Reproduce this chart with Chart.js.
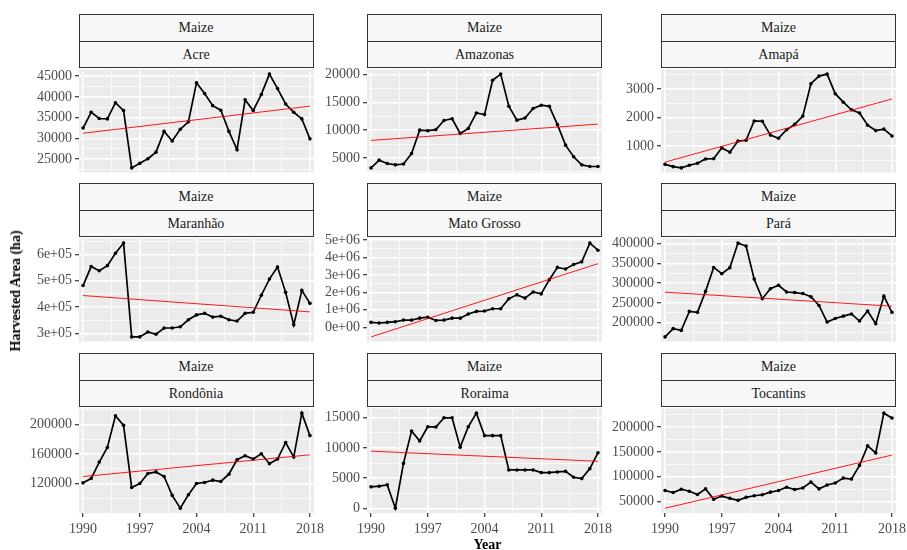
<!DOCTYPE html>
<html>
<head>
<meta charset="utf-8">
<script src="https://cdn.jsdelivr.net/npm/chart.js@4.4.1/dist/chart.umd.min.js"></script>
<style>
  body { margin: 0; background: #fff; width: 907px; height: 550px; position: relative; overflow: hidden;
         font-family: "Liberation Serif", "Times New Roman", serif; }
  canvas, .strip, .title { position: absolute; }
  .strip { box-sizing: border-box; border: 1.3px solid #333; background: #F7F7F7; }
  .strip div { box-sizing: border-box; height: 50%; display: flex; align-items: center; justify-content: center;
               font-size: 14px; color: #1A1A1A; }
  .strip div + div { border-top: 1.3px solid #333; }
  .title { font-weight: bold; font-size: 14px; color: #000; white-space: nowrap; }
</style>
</head>
<body>
<script>
const crop = 'Maize';
const years = [1990, 1991, 1992, 1993, 1994, 1995, 1996, 1997, 1998, 1999, 2000, 2001, 2002, 2003, 2004,
               2005, 2006, 2007, 2008, 2009, 2010, 2011, 2012, 2013, 2014, 2015, 2016, 2017, 2018];
const yearTicks = [1990, 1997, 2004, 2011, 2018];

// area colhida (ha) por estado
const acre = [32500, 36300, 34800, 34700, 38600, 36700, 22900, 24000, 25100, 26700, 31700, 29400, 32200, 34000, 43400,
              40800, 37900, 36800, 31700, 27300, 39300, 36700, 40600, 45500, 42000, 38300, 36300, 34700, 29900];
const amazonas = [3200, 4600, 4000, 3750, 3900, 5800, 10000, 9900, 10100, 11750, 12050, 9400, 10300, 13100, 12800,
                  19000, 20100, 14300, 11800, 12200, 13900, 14500, 14300, 11000, 7300, 5200, 3750, 3450, 3450];
const amapa = [350, 270, 225, 320, 390, 540, 550, 930, 780, 1170, 1200, 1880, 1870, 1380, 1270,
               1570, 1760, 2050, 3190, 3460, 3530, 2840, 2540, 2270, 2160, 1730, 1540, 1590, 1350];
const maranhao = [482000, 554500, 538500, 558000, 605000, 644000, 286000, 286000, 305000, 296000, 320000, 320000, 324500, 351500, 370000,
                  376000, 361500, 365000, 351500, 346500, 376000, 380000, 445000, 506500, 553000, 456000, 332000, 463500, 414000];
const matoGrosso = [279000, 242000, 279000, 316000, 409000, 409000, 520000, 576000, 390000, 409000, 520000, 520000, 762000, 911000, 929000,
                    1060000, 1060000, 1636000, 1859000, 1673000, 2026000, 1915000, 2732000, 3439000, 3346000, 3606000, 3755000, 4833000, 4424000];
const para = [164000, 185000, 180500, 228500, 226000, 279000, 339500, 323500, 339000, 401000, 393500, 310000, 260500, 285500, 294500,
              277500, 276000, 273500, 265500, 243500, 201500, 210500, 216500, 222000, 204000, 229500, 197500, 267000, 226000];
const rondonia = [121300, 127100, 149300, 168900, 211600, 198700, 115100, 120400, 133800, 136000, 129800, 104400, 87100, 105300, 120400,
                  121800, 124900, 123100, 132900, 152400, 157800, 153300, 160400, 147100, 153300, 175600, 156000, 215100, 184900];
const roraima = [3550, 3660, 3880, 0, 7440, 12800, 11170, 13520, 13470, 15000, 15000, 10130, 13520, 15770, 12040,
                 12040, 12040, 6350, 6350, 6350, 6350, 5910, 5910, 6020, 6130, 5140, 4920, 6570, 9200];
const tocantins = [72400, 68400, 75000, 71000, 64500, 75700, 54600, 61200, 56600, 52600, 58600, 61800, 63800, 69100, 72400,
                   79000, 74300, 77600, 89500, 75700, 83600, 87500, 97400, 95400, 123000, 162500, 148000, 228300, 218400];

const acreTicks = [25000, 30000, 35000, 40000, 45000];
const amazonasTicks = [5000, 10000, 15000, 20000];
const amapaTicks = [1000, 2000, 3000];
const maranhaoTicks = [300000, 400000, 500000, 600000];
const matoGrossoTicks = [0, 1000000, 2000000, 3000000, 4000000, 5000000];
const paraTicks = [200000, 250000, 300000, 350000, 400000];
const rondoniaTicks = [120000, 160000, 200000];
const roraimaTicks = [0, 5000, 10000, 15000];
const tocantinsTicks = [50000, 100000, 150000, 200000];

const paineis = [
  { estado: 'Acre', valores: acre, ticks: acreTicks },
  { estado: 'Amazonas', valores: amazonas, ticks: amazonasTicks },
  { estado: 'Amapá', valores: amapa, ticks: amapaTicks },
  { estado: 'Maranhão', valores: maranhao, ticks: maranhaoTicks, sci: true },
  { estado: 'Mato Grosso', valores: matoGrosso, ticks: matoGrossoTicks, sci: true },
  { estado: 'Pará', valores: para, ticks: paraTicks },
  { estado: 'Rondônia', valores: rondonia, ticks: rondoniaTicks },
  { estado: 'Roraima', valores: roraima, ticks: roraimaTicks },
  { estado: 'Tocantins', valores: tocantins, ticks: tocantinsTicks }
];

// posicoes dos paineis
const colLeft = [78.5, 367, 661];
const plotW = 235;
const stripTop = [14, 183, 353];
const stripH = 54;
const plotH = 106;
const yAxisW = 75;
const xMin = 1989.5, xMax = 2018.5;

const FONTE = '"Liberation Serif", "Times New Roman", serif';

// reta de tendencia (minimos quadrados)
function ajusteLinear(xs, ys) {
  const n = xs.length;
  const mx = xs.reduce((a, b) => a + b, 0) / n;
  const my = ys.reduce((a, b) => a + b, 0) / n;
  let sxy = 0, sxx = 0;
  for (let i = 0; i < n; i++) {
    sxy += (xs[i] - mx) * (ys[i] - my);
    sxx += (xs[i] - mx) * (xs[i] - mx);
  }
  const b = sxy / sxx;
  const a = my - b * mx;
  return x => a + b * x;
}

// grade menor no meio das marcas principais
function comMenores(maiores, lo, hi) {
  const passo = maiores[1] - maiores[0];
  const out = [];
  const n = (maiores.length + 1) * 2;
  for (let k = 0; k <= n; k++) {
    const v = maiores[0] - passo / 2 + k * passo / 2;
    if (v >= lo && v <= hi) out.push(v);
  }
  return out;
}

function rotulo(v, sci) {
  if (!sci) return String(v);
  return v.toExponential(0).replace(/e([+-])(\d)$/, 'e$10$2');
}

const fundo = {
  id: 'fundo',
  beforeDraw(chart) {
    const a = chart.chartArea;
    const ctx = chart.ctx;
    ctx.save();
    ctx.fillStyle = '#EBEBEB';
    ctx.fillRect(a.left, a.top, a.right - a.left, a.bottom - a.top);
    ctx.restore();
  }
};

function addStrip(left, top, nome) {
  const s = document.createElement('div');
  s.className = 'strip';
  s.style.left = left + 'px';
  s.style.top = top + 'px';
  s.style.width = plotW + 'px';
  s.style.height = stripH + 'px';
  s.innerHTML = '<div>' + crop + '</div><div>' + nome + '</div>';
  document.body.appendChild(s);
}

function addPainel(idx, p) {
  const row = Math.floor(idx / 3), col = idx % 3;
  const ultima = row === 2;
  const plotTop = stripTop[row] + stripH;
  addStrip(colLeft[col], stripTop[row], p.estado);

  const tendencia = ajusteLinear(years, p.valores);
  const extremos = p.valores.concat([tendencia(years[0]), tendencia(years[years.length - 1])]);
  let lo = Math.min(...extremos), hi = Math.max(...extremos);
  const folga = (hi - lo) * 0.05;
  lo -= folga; hi += folga;

  const yTicks = comMenores(p.ticks, lo, hi);
  const xTicks = comMenores(yearTicks, xMin, xMax);

  const padTop = 10, padRight = 20, padBottom = ultima ? 0 : 10, xAxisH = ultima ? 26 : 0;
  const cv = document.createElement('canvas');
  cv.width = yAxisW + plotW + padRight;
  cv.height = padTop + plotH + padBottom + xAxisH;
  cv.style.left = (colLeft[col] - yAxisW) + 'px';
  cv.style.top = (plotTop - padTop) + 'px';
  document.body.appendChild(cv);

  new Chart(cv, {
    type: 'line',
    data: {
      datasets: [
        {
          data: [{ x: years[0], y: tendencia(years[0]) }, { x: years[years.length - 1], y: tendencia(years[years.length - 1]) }],
          borderColor: '#FF0000', borderWidth: 0.9, pointRadius: 0
        },
        {
          data: years.map((x, i) => ({ x: x, y: p.valores[i] })),
          borderColor: '#000', borderWidth: 1.7, pointRadius: 1.8,
          pointBackgroundColor: '#000', pointBorderWidth: 0
        }
      ]
    },
    options: {
      responsive: false, animation: false, devicePixelRatio: 1,
      layout: { padding: { top: padTop, right: padRight, bottom: padBottom, left: 0 } },
      plugins: { legend: { display: false }, tooltip: { enabled: false } },
      scales: {
        x: {
          type: 'linear', min: xMin, max: xMax, bounds: 'data',
          afterBuildTicks: s => { s.ticks = xTicks.map(v => ({ value: v })); },
          afterFit: s => { s.height = xAxisH; },
          border: { display: false },
          grid: {
            color: '#FFFFFF', drawTicks: ultima, tickLength: 4, tickWidth: 1.2,
            lineWidth: c => yearTicks.includes(c.tick.value) ? 1.4 : 0.7,
            tickColor: c => yearTicks.includes(c.tick.value) ? '#333333' : 'rgba(0,0,0,0)'
          },
          ticks: {
            display: ultima, autoSkip: false, maxRotation: 0, padding: 4,
            color: '#4D4D4D', font: { family: FONTE, size: 14 },
            callback: v => yearTicks.includes(v) ? String(v) : ''
          }
        },
        y: {
          type: 'linear', min: lo, max: hi, bounds: 'data',
          afterBuildTicks: s => { s.ticks = yTicks.map(v => ({ value: v })); },
          afterFit: s => { s.width = yAxisW; },
          border: { display: false },
          grid: {
            color: '#FFFFFF', tickLength: 4, tickWidth: 1.2,
            lineWidth: c => p.ticks.includes(c.tick.value) ? 1.4 : 0.7,
            tickColor: c => p.ticks.includes(c.tick.value) ? '#333333' : 'rgba(0,0,0,0)'
          },
          ticks: {
            autoSkip: false, padding: 3,
            color: '#4D4D4D', font: { family: FONTE, size: 14 },
            callback: v => p.ticks.includes(v) ? rotulo(v, p.sci) : ''
          }
        }
      }
    },
    plugins: [fundo]
  });
}

paineis.forEach((p, i) => addPainel(i, p));

// titulos dos eixos
const tx = document.createElement('div');
tx.className = 'title';
tx.textContent = 'Year';
tx.style.left = '487.5px';
tx.style.top = '544.5px';
tx.style.transform = 'translate(-50%, -50%)';
document.body.appendChild(tx);

const ty = document.createElement('div');
ty.className = 'title';
ty.textContent = 'Harvested Area (ha)';
ty.style.left = '16px';
ty.style.top = '291px';
ty.style.transform = 'translate(-50%, -50%) rotate(-90deg)';
document.body.appendChild(ty);
</script>
</body>
</html>
